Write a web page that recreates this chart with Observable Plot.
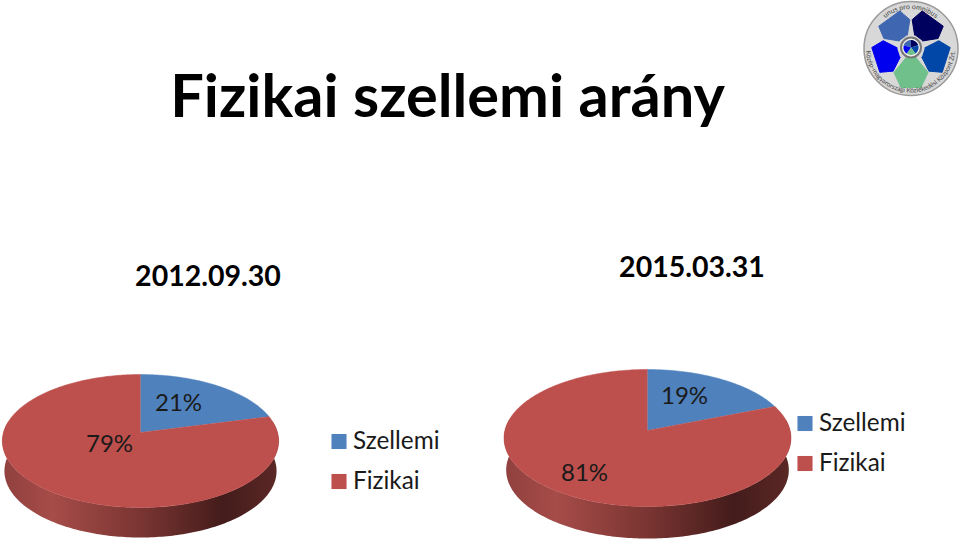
<!DOCTYPE html>
<html><head><meta charset="utf-8">
<style>html,body{margin:0;padding:0;background:#fff;overflow:hidden}svg{display:block}</style>
<script src="https://cdn.jsdelivr.net/npm/d3@7"></script>
<script src="https://cdn.jsdelivr.net/npm/@observablehq/plot@0.6"></script>
</head><body><div id="chart"></div>
<script>
const titleText = "Fizikai szellemi arány";
const categories = ["Szellemi", "Fizikai"];
const dates = ["2012.09.30", "2015.03.31"];
const values2012 = [21, 79];
const values2015 = [19, 81];
const seriesColors = ["#4f81bd", "#bd4f4c"];
const wallStops = [[0, "#8f403e"], [0.18, "#a64c49"], [0.5, "#7a3532"], [0.8, "#431c1b"], [1, "#5c2826"]];
const logoColors = ["#3f66b0", "#00005e", "#0047a8", "#70c08c", "#0000ee"];

// layout of each pie (perspective-projected disc), kept apart from the values
const pies = [
  {values: values2012, cx: 140, cy: 432, b: 137, a: 65.4, k: 0.128, depth: 30,
   labels: [[178, 403], [109, 444]], legend: [[331, 441], [331, 481]], date: [207.5, 285.5]},
  {values: values2015, cx: 647, cy: 430, b: 142.6, a: 67.7, k: 0.11, depth: 32,
   labels: [[684, 396], [584, 473]], legend: [[797, 423], [797, 463]], date: [691.5, 276.5]}
];

function rimPoint(p, deg, drop = 0) {
  const t = deg * Math.PI / 180, X = Math.sin(t), Y = Math.cos(t), w = 1 + p.k * Y;
  const s = drop ? 0.985 : 1;
  return {x: p.cx + s * p.b * X / w, y: p.cy - p.a * Y / w + drop};
}
function slicePath(p, from, to) {
  const pts = [{x: p.cx, y: p.cy}];
  for (const d of d3.range(from, to, 1)) pts.push(rimPoint(p, d));
  pts.push(rimPoint(p, to));
  return pts;
}
function wallPath(p) {
  const a = d3.range(80, 281, 1);
  return [...a.map(d => rimPoint(p, d)), ...a.slice().reverse().map(d => rimPoint(p, d, p.depth))];
}

const marks = [];
// gradient for the pie walls
marks.push(() => {
  const defs = d3.create("svg:defs");
  const g = defs.append("linearGradient").attr("id", "wall").attr("x1", 0).attr("x2", 1).attr("y1", 0).attr("y2", 0);
  for (const [o, c] of wallStops) g.append("stop").attr("offset", o).attr("stop-color", c);
  return defs.node();
});

const font = "Lato, 'Liberation Sans', sans-serif";
marks.push(Plot.text([titleText], {x: () => 447, y: () => 116, text: d => d, fontSize: 59.5, fontWeight: 700,
  fontFamily: font, fill: "#000", lineAnchor: "bottom"}));

for (const p of pies) {
  const total = d3.sum(p.values);
  marks.push(Plot.line(wallPath(p), {x: "x", y: "y", fill: "url(#wall)", stroke: "none"}));
  let start = 0;
  p.values.forEach((v, i) => {
    const end = start + v / total * 360;
    marks.push(Plot.line(slicePath(p, start, end), {x: "x", y: "y", fill: seriesColors[i], stroke: seriesColors[i], strokeWidth: 0.5}));
    start = end;
  });
  marks.push(Plot.text(p.values.map((v, i) => ({t: v + "%", x: p.labels[i][0], y: p.labels[i][1]})),
    {x: "x", y: "y", text: "t", fontSize: 24, fontFamily: font, fill: "#1a1a1a"}));
  marks.push(Plot.text([p.date], {x: () => p.date[0], y: () => p.date[1], text: () => dates[pies.indexOf(p)], fontSize: 28.5,
    fontWeight: 700, fontFamily: font, fill: "#000", lineAnchor: "bottom"}));
  const legend = categories.map((c, i) => ({c, x: p.legend[i][0], y: p.legend[i][1], col: seriesColors[i]}));
  marks.push(Plot.dot(legend, {x: d => d.x + 7.5, y: "y", symbol: "square", r: 8.5, fill: "col", stroke: "none"}));
  marks.push(Plot.text(legend, {x: d => d.x + 21.5, y: "y", text: "c", textAnchor: "start", fontSize: 24.3, fontFamily: font, fill: "#1a1a1a"}));
}

// logo
const L = {x: 910.5, y: 48};
const petal = [[13, 5], [24, 16], [37, 13], [37, -13], [24, -16], [13, -5]];
const bottomPetal = [[8, 4], [24, 17], [39, 10], [39, -10], [24, -17], [8, -4]];
marks.push(Plot.dot([L], {x: "x", y: "y", r: 47, fill: "#d8d8d8", stroke: "#9a9a9a", strokeWidth: 1.5}));
logoColors.forEach((col, i) => {
  const rot = (-36 + i * 72) * Math.PI / 180;
  const pts = (i === 3 ? bottomPetal : petal).map(([r, h]) => ({
    x: L.x + r * Math.sin(rot) + h * Math.cos(rot),
    y: L.y - r * Math.cos(rot) + h * Math.sin(rot)
  }));
  marks.push(Plot.line(pts, {x: "x", y: "y", fill: col, stroke: col, strokeWidth: 1, strokeLinejoin: "round"}));
});
marks.push(Plot.dot([{x: L.x, y: L.y - 1}], {x: "x", y: "y", r: 10, fill: "#eeeeee", stroke: "#777", strokeWidth: 2}));
logoColors.forEach((col, i) => {
  const pts = [{x: L.x, y: L.y - 1}];
  for (const d of d3.range(-72 + i * 72, i * 72 + 1, 8)) {
    const t = d * Math.PI / 180;
    pts.push({x: L.x + 7.5 * Math.sin(t), y: L.y - 1 - 7.5 * Math.cos(t)});
  }
  marks.push(Plot.line(pts, {x: "x", y: "y", fill: col, stroke: "none"}));
});
marks.push((index, scales) => {
  const g = d3.create("svg:g").attr("font-family", font).attr("fill", "#444");
  const cx = scales.x(L.x), cy = scales.y(L.y);
  g.append("path").attr("id", "arcTop").attr("fill", "none")
    .attr("d", `M${cx - 39},${cy} A39,39 0 0 1 ${cx + 39},${cy}`);
  g.append("path").attr("id", "arcBot").attr("fill", "none")
    .attr("d", `M${cx - 44},${cy - 8} A44.7,44.7 0 1 0 ${cx + 44},${cy - 8}`);
  g.append("text").attr("font-size", 7).append("textPath").attr("href", "#arcTop")
    .attr("startOffset", "50%").attr("text-anchor", "middle").text("unus pro omnibus");
  g.append("text").attr("font-size", 6.5).append("textPath").attr("href", "#arcBot")
    .attr("startOffset", "50%").attr("text-anchor", "middle").text("Közép-magyarországi Közlekedési Központ Zrt.");
  return g.node();
});

const chart = Plot.plot({
  width: 960, height: 543, margin: 0,
  x: {domain: [0, 960], range: [0, 960], axis: null},
  y: {domain: [0, 543], range: [0, 543], axis: null},
  style: {background: "#fff"},
  marks
});
document.getElementById("chart").append(chart);
</script></body></html>
